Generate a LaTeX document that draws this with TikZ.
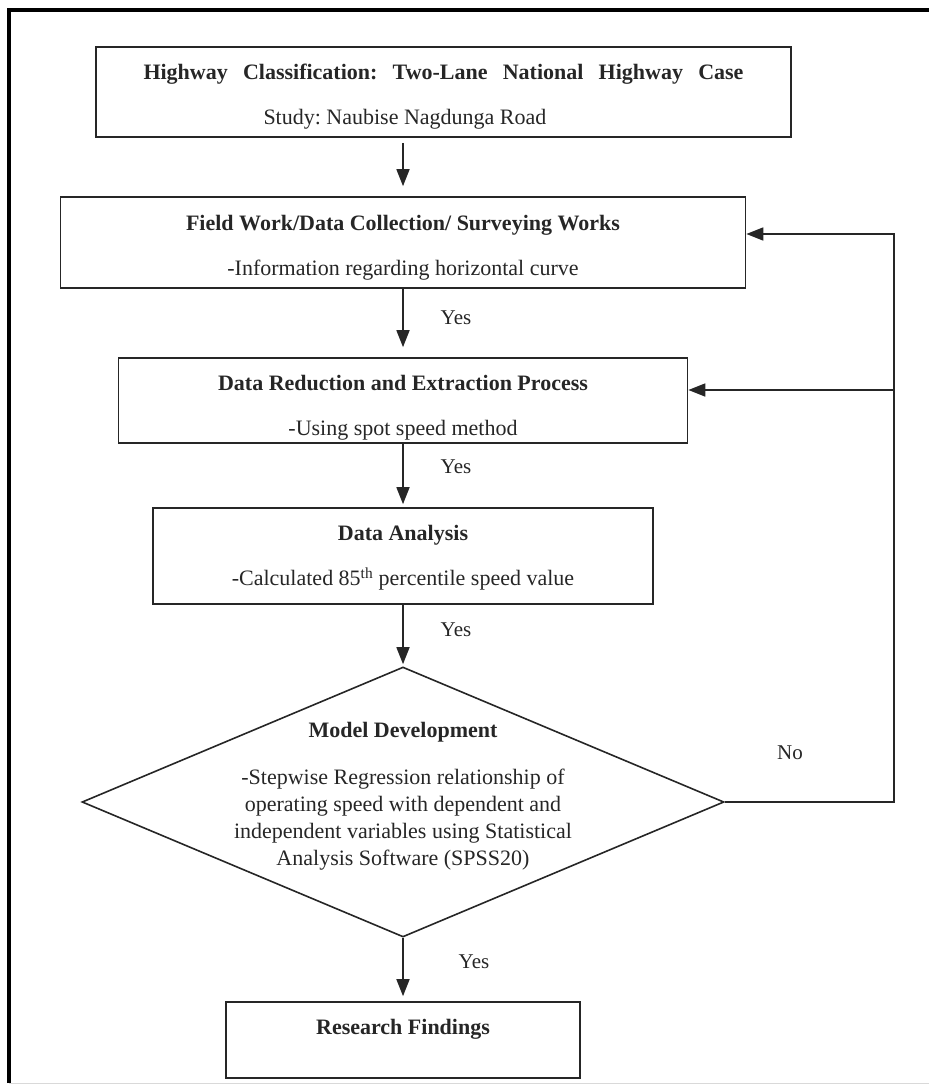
\documentclass[tikz,border=0pt]{standalone}
\usepackage{fontspec}
\setmainfont{Liberation Serif}
\usetikzlibrary{shapes.geometric,arrows.meta}
\frenchspacing
\newcommand{\strutup}[1]{\rule{0pt}{#1}}
\begin{document}
\begin{tikzpicture}[x=1pt,y=-1pt,
  box/.style={draw=black!85, line width=1.6pt, inner sep=0pt, align=center,
    text=black!85, font=\fontsize{22}{45}\selectfont},
  flow/.style={line width=1.6pt, draw=black!85, line join=miter,
    -{Triangle[length=17pt,width=13pt]}},
  lbl/.style={font=\fontsize{21}{24}\selectfont, text=black!85, inner sep=0pt}]
\useasboundingbox (0,0) rectangle (929,1086);
\draw[line width=4pt] (9,1083) -- (9,10) -- (929,10);
\draw[black!15, line width=1pt] (9,1083) -- (929,1083);

\node[box, minimum width=695pt, minimum height=90pt] (box1) at (443.5,92)
  {\strutup{25pt}\makebox[600pt][s]{\bfseries Highway Classification: Two-Lane National Highway Case}\\
   \makebox[600pt][l]{\hspace{120pt}Study: Naubise Nagdunga Road}};
\node[box, minimum width=685pt, minimum height=91pt] (box2) at (403,242.5)
  {\strutup{25pt}\textbf{Field Work/Data Collection/ Surveying Works}\\-Information regarding horizontal curve};
\node[box, minimum width=569pt, minimum height=85pt] (box3) at (403,400.5)
  {\strutup{29pt}\textbf{Data Reduction and Extraction Process}\\-Using spot speed method};
\node[box, minimum width=500pt, minimum height=96pt] (box4) at (403,556)
  {\strutup{19pt}\textbf{Data Analysis}\\-Calculated 85\textsuperscript{th} percentile speed value};
\node[box, diamond, minimum width=642pt, minimum height=270pt] (dia) at (403,802) {};
\node[align=center, text=black!85, inner sep=0pt, font=\fontsize{22}{27}\selectfont] (diatxt) at (403,796)
  {\textbf{Model Development}\\[20pt]
   -Stepwise Regression relationship of\\
   operating speed with dependent and\\
   independent variables using Statistical\\
   Analysis Software (SPSS20)};
\node[box, minimum width=354pt, minimum height=76pt, text height=15pt, text depth=26pt] (box5) at (403,1040)
  {\textbf{Research Findings}};

\draw[flow, shorten <=5pt, shorten >=10pt] (box1.south -| box2.north) -- (box2.north);
\draw[flow, shorten >=10pt] (box2.south) -- (box3.north);
\draw[flow, shorten >=3pt] (box3.south) -- (box4.north);
\draw[flow, shorten >=2pt] (box4.south) -- (dia.north);
\draw[flow, shorten >=5pt] (dia.south) -- (box5.north);

\coordinate (c1) at (894,802);
\coordinate (c2) at (894,234);
\coordinate (c3) at (894,390);
\draw[flow] (dia.east) -- (c1) -- (c2) -- (c2 -| box2.east);
\draw[flow] (c3) -- (c3 -| box3.east);

\node[lbl] (yes1) at (456,318) {Yes};
\node[lbl] (yes2) at (456,467) {Yes};
\node[lbl] (yes3) at (456,630) {Yes};
\node[lbl] (yes4) at (474,962) {Yes};
\node[lbl] (no) at (790,753) {No};
\end{tikzpicture}
\end{document}
